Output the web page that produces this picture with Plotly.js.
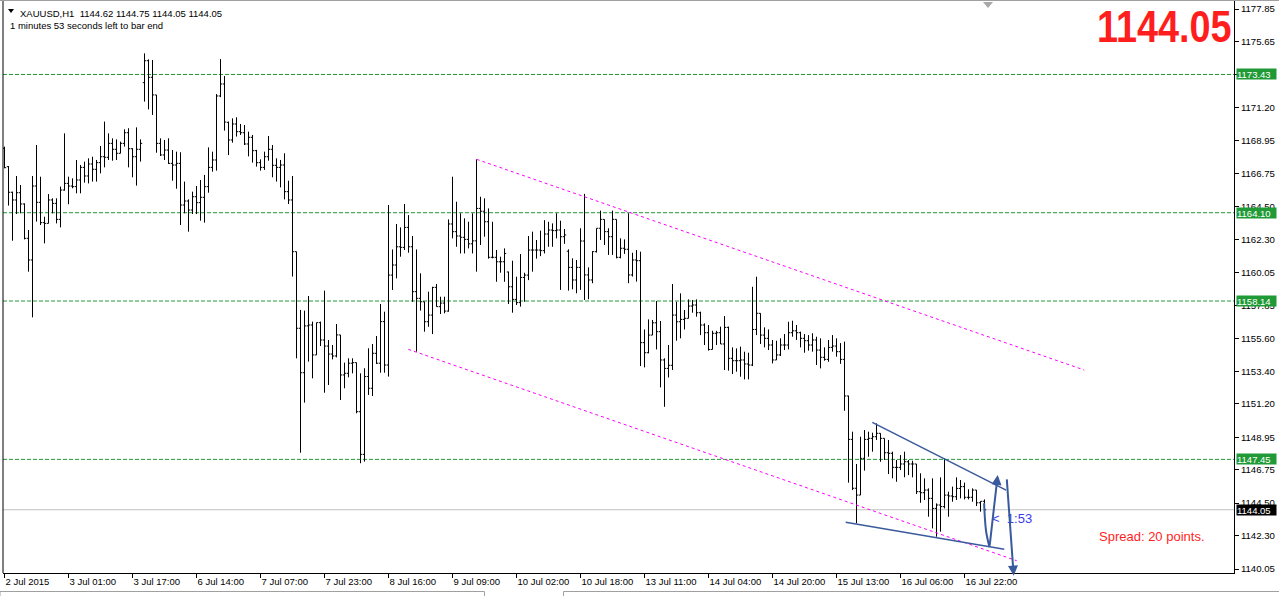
<!DOCTYPE html>
<html><head><meta charset="utf-8">
<script src="https://cdn.plot.ly/plotly-3.0.1.min.js"></script>
<style>html,body{margin:0;padding:0;background:#fff;overflow:hidden}#chart{width:1279px;height:596px}</style>
</head><body><div id="chart"></div>
<script>
// ---- XAUUSD H1 bars (index 0 = 2 Jul 2015) ----
const barOpen = [
1168.45,1167.21,1165.48,1164.96,1165.45,1164.69,1162.37,1160.91,1165.90,1164.80,
1163.43,1163.38,1164.96,1164.73,1163.65,1165.63,1166.08,1165.90,1165.86,1166.31,
1167.16,1166.58,1167.39,1167.03,1167.48,1167.88,1167.84,1168.78,1168.38,1168.11,
1168.78,1169.50,1168.42,1167.88,1168.38,1172.88,1174.36,1173.24,1172.05,1168.78,
1168.00,1168.33,1167.43,1167.32,1167.43,1164.62,1164.89,1164.28,1165.18,1164.78,
1165.14,1165.86,1167.16,1167.66,1171.98,1172.79,1170.20,1169.01,1170.09,1169.57,
1169.50,1168.74,1169.19,1168.29,1167.48,1167.16,1167.88,1168.38,1167.30,1167.16,
1167.32,1165.52,1164.96,1161.47,1156.30,1153.30,1156.46,1156.52,1154.50,1156.68,
1155.51,1155.10,1154.56,1154.43,1155.85,1153.15,1153.26,1153.94,1153.98,1150.67,
1147.79,1153.04,1152.25,1154.61,1153.94,1156.75,1153.82,1159.89,1160.57,1161.80,
1161.76,1163.11,1161.80,1158.77,1158.32,1158.09,1156.74,1157.19,1159.06,1157.76,
1158.00,1157.46,1163.34,1162.82,1162.53,1162.44,1162.30,1162.00,1162.20,1164.39,
1164.20,1163.49,1161.09,1161.09,1160.79,1160.79,1160.10,1159.10,1158.25,1158.03,
1159.73,1159.89,1161.58,1161.58,1161.58,1161.54,1162.66,1162.93,1162.89,1162.93,
1162.48,1161.50,1160.41,1159.56,1160.41,1162.19,1159.90,1159.56,1161.47,1163.05,
1163.65,1162.82,1162.48,1163.65,1161.09,1161.70,1161.63,1159.90,1160.91,1160.86,
1155.33,1154.65,1155.84,1156.67,1156.07,1154.16,1153.59,1153.80,1157.19,1156.74,
1156.90,1156.97,1157.80,1157.87,1157.35,1156.52,1156.00,1154.87,1155.96,1156.00,
1155.24,1156.36,1154.27,1154.11,1154.11,1154.16,1153.89,1153.82,1156.22,1157.31,
1155.84,1155.62,1155.17,1154.16,1154.50,1155.17,1155.17,1156.00,1156.13,1156.00,
1155.62,1155.46,1155.17,1155.51,1154.83,1154.34,1154.20,1155.01,1155.10,1154.72,
1154.20,1151.73,1148.80,1145.50,1145.04,1147.52,1148.80,1148.87,1148.98,1149.21,
1148.87,1147.90,1147.86,1146.91,1146.91,1147.14,1147.29,1147.14,1147.14,1145.27,
1145.20,1145.38,1144.82,1144.14,1144.37,1144.26,1145.04,1144.98,1144.93,1145.49,
1145.61,1144.89,1144.89,1145.38,1144.52,1144.62];
const barHigh = [
1168.56,1167.25,1165.52,1166.58,1165.97,1164.73,1162.93,1166.58,1168.67,1166.53,
1163.83,1165.36,1165.07,1165.07,1165.86,1169.46,1166.53,1166.42,1167.66,1167.32,
1167.55,1167.77,1167.88,1167.66,1168.60,1170.25,1169.46,1169.12,1169.05,1168.90,
1169.73,1169.80,1168.45,1169.86,1169.05,1174.86,1174.45,1174.41,1172.05,1169.12,
1169.01,1169.12,1168.33,1168.22,1168.18,1166.20,1165.00,1165.52,1165.90,1166.31,
1166.65,1168.51,1168.22,1172.11,1174.47,1173.33,1170.25,1170.47,1170.54,1170.09,
1170.02,1169.57,1169.35,1168.34,1167.70,1168.22,1169.28,1168.67,1167.77,1167.66,
1168.11,1166.26,1166.58,1161.47,1157.54,1157.49,1158.48,1156.75,1156.68,1156.75,
1158.84,1155.51,1155.17,1156.59,1155.85,1153.98,1154.27,1154.27,1153.98,1153.26,
1153.60,1154.95,1155.24,1155.78,1157.94,1157.42,1164.62,1161.62,1163.34,1163.11,
1164.69,1163.94,1162.53,1161.62,1160.01,1158.09,1158.77,1159.10,1159.29,1158.43,
1158.43,1163.65,1166.53,1164.84,1164.06,1163.72,1163.49,1164.06,1167.70,1165.18,
1165.07,1164.39,1163.49,1161.58,1161.13,1161.69,1160.12,1160.86,1159.78,1161.31,
1160.05,1162.53,1162.82,1162.26,1162.89,1163.60,1163.49,1163.38,1164.06,1163.56,
1163.00,1161.63,1161.02,1160.91,1163.05,1165.37,1160.41,1161.50,1163.05,1164.24,
1163.65,1163.05,1164.24,1163.65,1162.37,1162.30,1164.06,1161.40,1161.58,1161.47,
1156.22,1156.90,1156.86,1158.14,1156.79,1154.27,1155.17,1159.29,1158.09,1158.66,
1157.53,1158.25,1158.21,1158.25,1157.42,1156.63,1156.52,1156.13,1156.13,1156.41,
1157.12,1156.41,1155.01,1154.94,1155.06,1154.72,1154.65,1159.10,1159.78,1157.31,
1156.36,1156.22,1155.51,1155.46,1155.62,1155.91,1156.74,1156.81,1156.52,1156.07,
1155.91,1155.84,1155.96,1155.73,1155.62,1155.01,1155.51,1155.84,1155.62,1155.30,
1155.40,1151.75,1149.32,1147.14,1148.98,1149.43,1149.32,1149.25,1149.88,1149.21,
1148.87,1148.76,1147.97,1147.41,1147.74,1147.97,1147.41,1147.36,1147.14,1146.51,
1146.17,1145.49,1146.17,1144.48,1146.24,1147.52,1145.27,1145.61,1146.24,1146.06,
1145.88,1145.43,1145.49,1145.38,1144.62,1144.75];
const barLow = [
1167.10,1164.58,1162.21,1164.01,1164.06,1162.30,1160.12,1157.04,1163.50,1163.27,
1162.03,1163.38,1164.06,1163.38,1163.11,1165.59,1164.67,1165.75,1165.41,1165.41,
1166.13,1166.08,1166.20,1166.20,1166.76,1167.16,1167.66,1167.61,1167.66,1168.11,
1168.56,1167.16,1166.49,1165.93,1167.55,1171.60,1171.08,1170.70,1168.15,1167.93,
1167.66,1167.39,1166.26,1165.72,1163.27,1164.06,1162.82,1164.01,1164.01,1163.56,
1163.43,1165.45,1166.87,1166.94,1171.90,1169.64,1167.99,1168.83,1169.24,1169.35,
1168.67,1167.90,1167.48,1167.21,1166.94,1166.99,1167.61,1166.49,1166.20,1165.81,
1165.00,1164.69,1159.79,1154.27,1147.90,1151.28,1154.05,1152.92,1154.50,1155.10,
1151.95,1152.47,1154.20,1154.34,1151.46,1152.25,1152.99,1153.26,1150.56,1147.19,
1147.30,1151.80,1151.73,1153.89,1153.30,1153.30,1153.04,1158.88,1159.67,1161.13,
1161.58,1161.40,1158.09,1154.72,1157.49,1156.07,1156.40,1155.91,1157.76,1157.26,
1157.31,1157.42,1162.37,1161.80,1161.35,1161.35,1161.69,1161.35,1160.12,1161.92,
1162.48,1161.00,1161.02,1159.44,1160.05,1159.44,1157.94,1157.35,1157.87,1157.76,
1158.09,1159.55,1160.12,1161.00,1161.17,1161.35,1161.80,1161.80,1162.37,1158.89,
1162.00,1158.84,1158.93,1158.66,1158.89,1158.21,1158.26,1159.34,1161.41,1162.26,
1161.92,1161.25,1161.25,1161.02,1161.02,1161.32,1159.34,1159.79,1159.45,1153.75,
1153.66,1154.61,1155.84,1154.87,1152.31,1151.00,1152.98,1153.48,1155.46,1155.62,
1156.22,1156.97,1157.35,1157.08,1155.84,1155.17,1154.79,1154.87,1155.17,1155.24,
1153.48,1153.44,1153.21,1153.37,1153.03,1152.85,1152.85,1153.75,1155.84,1155.24,
1155.01,1154.83,1153.93,1154.16,1154.43,1154.83,1154.87,1155.73,1155.51,1155.01,
1154.65,1154.79,1154.72,1153.82,1153.59,1154.11,1154.04,1154.72,1154.38,1153.90,
1150.73,1145.88,1145.38,1143.13,1145.04,1146.69,1147.63,1147.97,1148.76,1147.29,
1147.41,1146.46,1146.17,1145.94,1146.73,1146.24,1146.39,1146.24,1145.11,1144.52,
1144.71,1143.58,1142.79,1142.23,1142.57,1144.14,1143.58,1144.59,1144.71,1144.82,
1144.75,1144.75,1144.59,1144.30,1143.92,1144.05];
const barClose = [
1167.14,1165.48,1164.96,1165.45,1164.69,1162.37,1160.91,1165.90,1164.80,1163.43,
1163.38,1164.96,1164.73,1163.65,1165.63,1166.08,1165.90,1165.86,1166.31,1167.16,
1166.58,1167.39,1167.03,1167.48,1167.88,1167.84,1168.78,1168.38,1168.11,1168.78,
1169.50,1168.42,1167.88,1168.38,1168.78,1174.36,1173.24,1172.05,1168.78,1168.00,
1168.33,1167.43,1167.32,1167.43,1164.62,1164.89,1164.28,1165.18,1164.78,1165.14,
1165.86,1167.16,1167.66,1171.98,1172.79,1170.22,1169.01,1170.09,1169.57,1169.50,
1168.74,1169.19,1168.29,1167.48,1167.16,1167.88,1168.38,1167.30,1167.16,1167.32,
1165.52,1164.96,1161.47,1156.30,1153.30,1156.46,1156.52,1154.50,1156.68,1155.51,
1155.10,1154.56,1154.43,1155.85,1153.15,1153.26,1153.94,1153.98,1150.67,1147.79,
1153.04,1152.25,1154.61,1153.94,1156.75,1153.82,1159.89,1160.57,1161.80,1161.76,
1163.11,1161.80,1158.77,1158.32,1158.09,1156.74,1157.19,1159.06,1157.76,1158.00,
1157.46,1163.34,1162.82,1162.53,1162.44,1162.30,1162.00,1162.20,1164.39,1164.20,
1163.49,1161.09,1161.09,1160.79,1160.79,1161.35,1159.10,1158.25,1158.03,1159.73,
1159.89,1161.58,1161.58,1161.58,1161.54,1162.66,1162.93,1162.89,1162.93,1162.48,
1162.60,1160.41,1159.56,1160.41,1162.19,1159.90,1159.56,1161.47,1163.05,1163.65,
1162.82,1162.48,1163.65,1161.09,1161.70,1161.63,1159.90,1160.91,1160.86,1155.33,
1154.65,1155.84,1156.67,1156.07,1154.16,1153.59,1153.80,1157.19,1156.74,1156.90,
1156.97,1157.80,1157.87,1157.35,1156.52,1156.00,1154.87,1155.96,1156.00,1155.24,
1156.36,1154.27,1154.11,1154.11,1154.16,1153.89,1153.82,1156.22,1157.31,1155.84,
1155.62,1155.17,1154.16,1154.50,1155.17,1155.17,1156.00,1156.13,1156.00,1155.62,
1155.46,1155.17,1155.51,1154.83,1154.34,1154.20,1155.01,1155.10,1154.72,1154.20,
1151.73,1148.80,1145.50,1145.04,1147.52,1148.80,1148.87,1148.98,1149.21,1148.87,
1147.90,1147.86,1146.91,1146.91,1147.14,1147.29,1147.14,1147.14,1145.27,1145.20,
1145.38,1144.82,1144.14,1144.37,1144.26,1145.04,1144.98,1144.93,1145.49,1145.61,
1144.89,1144.89,1145.38,1144.52,1144.62,1144.05];

// time-axis labels (one every 16 bars)
const timeLabels = ['2 Jul 2015','3 Jul 01:00','3 Jul 17:00','6 Jul 14:00','7 Jul 07:00','7 Jul 23:00',
  '8 Jul 16:00','9 Jul 09:00','10 Jul 02:00','10 Jul 18:00','13 Jul 11:00','14 Jul 04:00',
  '14 Jul 20:00','15 Jul 13:00','16 Jul 06:00','16 Jul 22:00'];
const priceTicks = [1177.85,1175.65,1173.40,1171.20,1168.95,1166.75,1164.50,1162.30,1160.05,
  1157.85,1155.60,1153.40,1151.20,1148.95,1146.75,1144.50,1142.30,1140.05];
const hiddenTicks = [1173.40]; // fully covered by a level label in the reference
// horizontal level lines and current bid
const levelPrices = [1173.43, 1164.10, 1158.14, 1147.45];
const bidPrice = 1144.05;
// analyst drawings: [barIndex, price] endpoints
const channelUpper = [[118.05, 1167.70], [269.95, 1153.48]];
const channelLower = [[100.95, 1154.88], [253.05, 1140.61]];
const wedgeUpper = [[216.95, 1149.95], [250.4, 1145.38]];
const wedgeLower = [[210.3, 1143.20], [249.95, 1141.38]];
const projUp = [[244.9, 1144.50], [245.4, 1142.6], [246.25, 1141.53], [248.3, 1146.40]];
const projDown = [[250.55, 1146.20], [252.3, 1139.60]];

const W = 1279, H = 596, ML = 3, MR = 45, MT = 0, MB = 23;
const PW = W - ML - MR, PH = H - MT - MB;
const pxX = px => (px - ML) / PW;
const pxY = py => (H - MB - py) / PH;

const xIdx = barOpen.map((_, i) => i);
const blue = '#3a5a9e';
const green = '#1f9a36';
const FONT = 'Liberation Sans, Arial, sans-serif';

const traces = [{
  type: 'ohlc', x: xIdx, open: barOpen, high: barHigh, low: barLow, close: barClose,
  increasing: {line: {color: '#000', width: 1}},
  decreasing: {line: {color: '#000', width: 1}},
  tickwidth: 0.42, hoverinfo: 'skip', showlegend: false
}, {
  type: 'scatter', mode: 'lines', x: projUp.slice(0, 3).map(p => p[0]), y: projUp.slice(0, 3).map(p => p[1]),
  line: {color: blue, width: 2, shape: 'spline'}, hoverinfo: 'skip', showlegend: false
}];

const shapes = [];
levelPrices.forEach(p => shapes.push({type: 'line', xref: 'paper', x0: 0, x1: 1, yref: 'y', y0: p, y1: p,
  line: {color: green, width: 1, dash: '4px,2px'}, layer: 'below'}));
shapes.push({type: 'line', xref: 'paper', x0: 0, x1: 1, yref: 'y', y0: bidPrice, y1: bidPrice,
  line: {color: '#c0c0c0', width: 1}, layer: 'below'});
[channelUpper, channelLower].forEach(c => shapes.push({type: 'line', xref: 'x', yref: 'y',
  x0: c[0][0], y0: c[0][1], x1: c[1][0], y1: c[1][1], line: {color: '#ff00ff', width: 1, dash: '3px,3px'}}));
[wedgeUpper, wedgeLower].forEach(c => shapes.push({type: 'line', xref: 'x', yref: 'y',
  x0: c[0][0], y0: c[0][1], x1: c[1][0], y1: c[1][1], line: {color: blue, width: 1.5}}));
// frame lines
shapes.push({type: 'line', xref: 'paper', yref: 'paper', x0: 0, x1: 0, y0: 0, y1: 1, line: {color: '#000', width: 1}});
shapes.push({type: 'line', xref: 'paper', yref: 'paper', x0: pxX(0), x1: pxX(1279), y0: pxY(0.5), y1: pxY(0.5), line: {color: '#a0a0a0', width: 1}});
// bottom tab strip outline
shapes.push({type: 'path', xref: 'paper', yref: 'paper',
  path: `M ${pxX(0)},${pxY(596)} L ${pxX(0)},${pxY(591.5)} L ${pxX(484.5)},${pxY(591.5)} L ${pxX(484.5)},${pxY(596)}`,
  line: {color: '#a0a0a0', width: 1}});
shapes.push({type: 'path', xref: 'paper', yref: 'paper',
  path: `M ${pxX(563.5)},${pxY(596)} L ${pxX(563.5)},${pxY(591.5)} L ${pxX(1279)},${pxY(591.5)}`,
  line: {color: '#a0a0a0', width: 1}});
// small menu triangle top-left
shapes.push({type: 'path', xref: 'paper', yref: 'paper',
  path: `M ${pxX(8)},${pxY(9)} L ${pxX(14)},${pxY(9)} L ${pxX(11)},${pxY(13)} Z`, fillcolor: '#000', line: {width: 0}});
// chart shift marker
shapes.push({type: 'path', xref: 'paper', yref: 'paper',
  path: `M ${pxX(983)},${pxY(2)} L ${pxX(993)},${pxY(2)} L ${pxX(988)},${pxY(8)} Z`, fillcolor: '#a8a8a8', line: {width: 0}});

const txtFont = {family: FONT, size: 9.5, color: '#000'};
const annotations = [
  {xref: 'paper', yref: 'paper', x: pxX(18), y: pxY(13), xanchor: 'left', yanchor: 'middle', showarrow: false,
   text: 'XAUUSD,H1\u00a0\u00a01144.62 1144.75 1144.05 1144.05', font: txtFont},
  {xref: 'paper', yref: 'paper', x: pxX(8), y: pxY(25.5), xanchor: 'left', yanchor: 'middle', showarrow: false,
   text: '1 minutes 53 seconds left to bar end', font: txtFont},
  {xref: 'paper', yref: 'paper', x: pxX(1234), y: pxY(26.5), xanchor: 'right', yanchor: 'middle', showarrow: false,
   text: '<b>' + bidPrice.toFixed(2) + '</b>', font: {family: FONT, size: 44, color: '#ff1e1e'}},
  {xref: 'paper', yref: 'paper', x: pxX(1097), y: pxY(536), xanchor: 'left', yanchor: 'middle', showarrow: false,
   text: 'Spread: 20 points.', font: {family: FONT, size: 13, color: '#ff1e1e'}},
  {xref: 'paper', yref: 'paper', x: pxX(990), y: pxY(518), xanchor: 'left', yanchor: 'middle', showarrow: false,
   text: '&lt;\u00a0 1:53', font: {family: FONT, size: 13, color: '#3c3cf0'}},
  {x: projUp[3][0], y: projUp[3][1], ax: projUp[2][0], ay: projUp[2][1], xref: 'x', yref: 'y', axref: 'x', ayref: 'y',
   text: '', showarrow: true, arrowhead: 2, arrowsize: 1, arrowwidth: 2, arrowcolor: blue},
  {x: projDown[1][0], y: projDown[1][1], ax: projDown[0][0], ay: projDown[0][1], xref: 'x', yref: 'y', axref: 'x', ayref: 'y',
   text: '', showarrow: true, arrowhead: 2, arrowsize: 1, arrowwidth: 2, arrowcolor: blue}
];
levelPrices.forEach(p => annotations.push({xref: 'paper', yref: 'y', x: 1, y: p, xanchor: 'left', yanchor: 'middle',
  xshift: 2, showarrow: false, text: p.toFixed(2), bgcolor: green, width: 39, height: 10, align: 'left', borderpad: 0,
  font: {family: FONT, size: 9.5, color: '#fff'}}));
annotations.push({xref: 'paper', yref: 'y', x: 1, y: bidPrice, xanchor: 'left', yanchor: 'middle',
  xshift: 2, showarrow: false, text: bidPrice.toFixed(2), bgcolor: '#000', width: 39, height: 10, align: 'left', borderpad: 0,
  font: {family: FONT, size: 9.5, color: '#fff'}});

const layout = {
  width: W, height: H, margin: {l: ML, r: MR, t: MT, b: MB, pad: 0},
  paper_bgcolor: '#fff', plot_bgcolor: '#fff', showlegend: false, dragmode: false,
  xaxis: {range: [-0.375, 307.375], tickvals: timeLabels.map((_, k) => k * 16), ticktext: timeLabels,
    ticks: 'outside', ticklen: 4, tickcolor: '#000', showline: true, linecolor: '#000', linewidth: 1,
    showgrid: false, zeroline: false, ticklabelposition: 'outside right',
    tickfont: {family: FONT, size: 9.5, color: '#000'},
    rangeslider: {visible: false}, fixedrange: true},
  yaxis: {side: 'right', range: [1139.781, 1178.4575], tickvals: priceTicks,
    ticktext: priceTicks.map(v => hiddenTicks.includes(v) ? '' : v.toFixed(2)),
    ticks: 'outside', ticklen: 4, tickcolor: '#000', showline: true, linecolor: '#000', linewidth: 1,
    showgrid: false, zeroline: false, tickfont: {family: FONT, size: 9.6, color: '#000'},
    fixedrange: true},
  shapes: shapes, annotations: annotations
};
Plotly.newPlot('chart', traces, layout, {displayModeBar: false, staticPlot: true}).then(() => {
  // narrow the big bid price like the terminal's condensed face
  const anns = document.querySelectorAll('#chart .annotation');
  const big = anns[2] && anns[2].querySelector('text.annotation-text');
  if (big) {
    const bb = big.getBBox();
    const rx = bb.x + bb.width;
    big.setAttribute('transform', `translate(${rx},0) scale(0.86,1) translate(${-rx},0)`);
  }
});
</script></body></html>
